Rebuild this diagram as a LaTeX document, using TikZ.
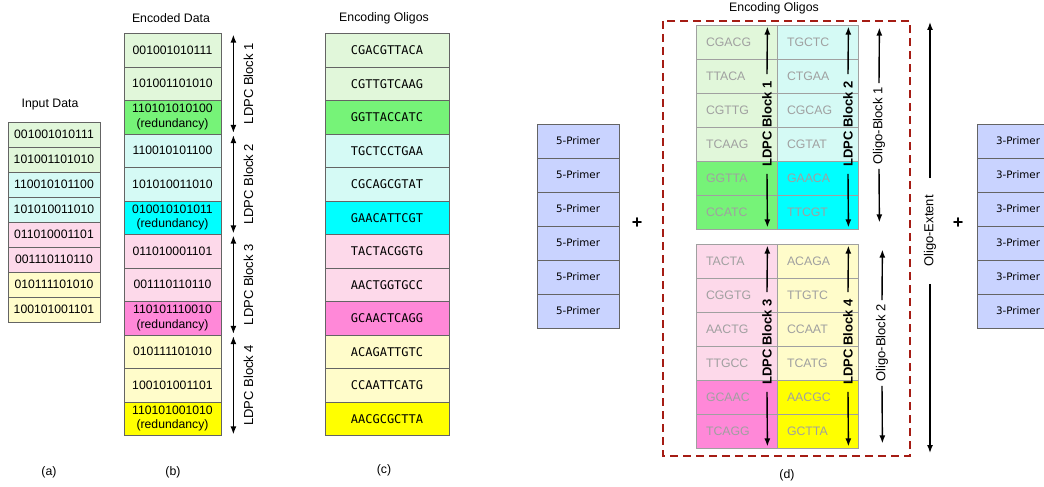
\documentclass[tikz,border=0pt]{standalone}
\usepackage{fontspec}
\setmainfont{Liberation Sans}
\newfontfamily\oligofont{DejaVu Sans Mono}
\newfontfamily\primerfont{DejaVu Sans}
\usetikzlibrary{calc, arrows.meta}

\definecolor{lgreen}{RGB}{225,247,218}
\definecolor{dgreen}{RGB}{118,243,120}
\definecolor{lcyan}{RGB}{213,250,245}
\definecolor{dcyan}{RGB}{0,255,255}
\definecolor{lpink}{RGB}{253,217,234}
\definecolor{dpink}{RGB}{255,136,216}
\definecolor{lyellow}{RGB}{255,252,202}
\definecolor{dyellow}{RGB}{255,255,0}
\definecolor{primerblue}{RGB}{201,211,255}
\definecolor{cellgrey}{RGB}{100,100,100}
\definecolor{dgrey}{RGB}{160,160,160}
\definecolor{boxred}{RGB}{165,28,20}

\newcommand{\redund}{\\(redundancy)}

\tikzset{
	cell/.style = {draw = cellgrey, line width = 0.8pt, inner sep = 0pt, align = center,
		font = \fontsize{12.2}{14.5}\selectfont},
	oligo/.style = {cell, font = \oligofont\fontsize{12}{13}\selectfont},
	primer/.style = {draw = cellgrey, fill = primerblue, line width = 0.8pt, inner sep = 0pt,
		minimum width = 82pt, minimum height = 34pt, font = \primerfont\fontsize{10.3}{12}\selectfont},
	dcell/.style = {draw = dgrey, line width = 0.8pt, inner sep = 0pt, minimum width = 81pt,
		minimum height = 34pt, text width = 61pt, align = left, text = dgrey,
		font = \fontsize{12.3}{13}\selectfont},
	heading/.style = {font = \fontsize{12.3}{14}\selectfont},
	spanline/.style = {line width = 1.4pt},
	ldpc/.style = {rotate = 90, inner xsep = 7pt, font = \bfseries\fontsize{13}{14}\selectfont},
	blocklabel/.style = {rotate = 90, inner xsep = 4pt, font = \fontsize{13}{14}\selectfont},
	plus/.style = {font = \bfseries\fontsize{18}{18}\selectfont},
	redbox/.style = {draw = boxred, line width = 2pt, dash pattern = on 8pt off 5pt}
}

\begin{document}
\begin{tikzpicture}[x = 1pt, y = -1pt, > = {Latex[length = 8pt, width = 6pt]}]

	% Definitions

	\def\inh{25}		% row height of input data
	\def\rowh{33.5}		% row height of encoded data and oligos
	\def\ph{34}		% row height of primers and oligo blocks

	\useasboundingbox (0, 0) rectangle (1044, 487);

	% Input data (a)

	\node [heading] (in-title) at (50, 105) {Input Data};
	\foreach \bits/\col [count = \i] in {001001010111/lgreen, 101001101010/lgreen,
		110010101100/lcyan, 101010011010/lcyan, 011010001101/lpink, 001110110110/lpink,
		010111101010/lyellow, 100101001101/lyellow}
		\node [cell, fill = \col, minimum width = 92pt, minimum height = \inh pt]
			(in-\i) at (54, {122 + (\i - 0.5) * \inh}) {\bits};

	% Encoded data (b)

	\node [heading] (enc-title) at (171, 18) {Encoded Data};
	\foreach \bits/\col [count = \i] in {001001010111/lgreen, 101001101010/lgreen,
		110101010100\redund/dgreen, 110010101100/lcyan, 101010011010/lcyan,
		010010101011\redund/dcyan, 011010001101/lpink, 001110110110/lpink,
		110101110010\redund/dpink, 010111101010/lyellow, 100101001101/lyellow,
		110101001010\redund/dyellow}
		\node [cell, fill = \col, minimum width = 97pt, minimum height = \rowh pt]
			(enc-\i) at (172.5, {33.5 + (\i - 0.5) * \rowh}) {\bits};

	% LDPC blocks of the encoded data

	\foreach \k in {1, ..., 4} {
		\pgfmathtruncatemacro\rtop{3 * \k - 2}
		\pgfmathtruncatemacro\rbot{3 * \k}
		\draw [<->, spanline] ([shift = {(12pt, -1.5pt)}] enc-\rtop.north east)
			-- ([shift = {(12pt, 1.5pt)}] enc-\rbot.south east);
		\node [blocklabel] (blk-\k)
			at ($(enc-\rtop.north east)!0.5!(enc-\rbot.south east) + (27pt, 0pt)$) {LDPC Block \k};
	}

	% Encoding oligos (c)

	\node [heading] (oli-title) at (384, 18) {Encoding Oligos};
	\foreach \seq/\col [count = \i] in {CGACGTTACA/lgreen, CGTTGTCAAG/lgreen,
		GGTTACCATC/dgreen, TGCTCCTGAA/lcyan, CGCAGCGTAT/lcyan, GAACATTCGT/dcyan,
		TACTACGGTG/lpink, AACTGGTGCC/lpink, GCAACTCAGG/dpink, ACAGATTGTC/lyellow,
		CCAATTCATG/lyellow, AACGCGCTTA/dyellow}
		\node [oligo, fill = \col, minimum width = 124pt, minimum height = \rowh pt]
			(oli-\i) at (387, {33.5 + (\i - 0.5) * \rowh}) {\seq};

	% Primers

	\foreach \i in {1, ..., 6} {
		\node [primer] (pfive-\i) at (578, {124 + (\i - 0.5) * \ph}) {5-Primer};
		\node [primer] (pthree-\i) at (1018, {124 + (\i - 0.5) * \ph}) {3-Primer};
	}

	\node [plus] (plus-l) at (637, 223) {+};
	\node [plus] (plus-r) at (958, 223) {+};

	% Oligo blocks (d)

	\node [heading] (d-title) at (774, 8) {Encoding Oligos};
	\draw [redbox] (663, 21) rectangle (910, 456);

	\foreach \a/\b/\ca/\cb [count = \i] in {CGACG/TGCTC/lgreen/lcyan, TTACA/CTGAA/lgreen/lcyan,
		CGTTG/CGCAG/lgreen/lcyan, TCAAG/CGTAT/lgreen/lcyan, GGTTA/GAACA/dgreen/dcyan,
		CCATC/TTCGT/dgreen/dcyan} {
		\node [dcell, fill = \ca] (dl-\i) at (736.5, {25 + (\i - 0.5) * \ph}) {\a};
		\node [dcell, fill = \cb] (dr-\i) at (817.5, {25 + (\i - 0.5) * \ph}) {\b};
	}

	\foreach \a/\b/\ca/\cb [count = \j] in {TACTA/ACAGA/lpink/lyellow, CGGTG/TTGTC/lpink/lyellow,
		AACTG/CCAAT/lpink/lyellow, TTGCC/TCATG/lpink/lyellow, GCAAC/AACGC/dpink/dyellow,
		TCAGG/GCTTA/dpink/dyellow} {
		\pgfmathtruncatemacro\i{\j + 6}
		\node [dcell, fill = \ca] (dl-\i) at (736.5, {244 + (\j - 0.5) * \ph}) {\a};
		\node [dcell, fill = \cb] (dr-\i) at (817.5, {244 + (\j - 0.5) * \ph}) {\b};
	}

	% LDPC blocks inside the oligos

	\node [ldpc] (ld-1) at (767, 124) {LDPC Block 1};
	\node [ldpc] (ld-2) at (848, 124) {LDPC Block 2};
	\node [ldpc] (ld-3) at (767, 342) {LDPC Block 3};
	\node [ldpc] (ld-4) at (848, 342) {LDPC Block 4};

	\begin{scope}[->, spanline]

		\draw (ld-1.east) -- ([shift = {(-10pt, -2pt)}] dl-1.north east);
		\draw (ld-1.west) -- ([shift = {(-10pt, 2pt)}] dl-6.south east);
		\draw (ld-2.east) -- ([shift = {(-10pt, -2pt)}] dr-1.north east);
		\draw (ld-2.west) -- ([shift = {(-10pt, 2pt)}] dr-6.south east);
		\draw (ld-3.east) -- ([shift = {(-10pt, -2pt)}] dl-7.north east);
		\draw (ld-3.west) -- ([shift = {(-10pt, 2pt)}] dl-12.south east);
		\draw (ld-4.east) -- ([shift = {(-10pt, -2pt)}] dr-7.north east);
		\draw (ld-4.west) -- ([shift = {(-10pt, 2pt)}] dr-12.south east);

	\end{scope}

	% Oligo-block and extent indicators

	\node [blocklabel] (ob-1) at (879, 126) {Oligo-Block 1};
	\node [blocklabel] (ob-2) at (882, 343) {Oligo-Block 2};
	\node [blocklabel, inner xsep = 17pt] (ext) at (930, 231) {Oligo-Extent};

	\coordinate (ext-top) at (930, 22);
	\coordinate (ext-bot) at (930, 453);

	\begin{scope}[->, spanline]

		\draw (ob-1.east) -- ([shift = {(21pt, -3pt)}] dr-1.north east);
		\draw (ob-1.west) -- ([shift = {(21pt, 7pt)}] dr-6.south east);
		\draw (ob-2.east) -- ([shift = {(24pt, -6pt)}] dr-7.north east);
		\draw (ob-2.west) -- ([shift = {(24pt, 5pt)}] dr-12.south east);
		\draw (ext.east) -- (ext-top);
		\draw (ext.west) -- (ext-bot);

	\end{scope}

	% Panel labels

	\node [heading] (lbl-a) at (49, 472) {(a)};
	\node [heading] (lbl-b) at (173, 472) {(b)};
	\node [heading] (lbl-c) at (384, 470) {(c)};
	\node [heading] (lbl-d) at (787, 475) {(d)};

\end{tikzpicture}
\end{document}
